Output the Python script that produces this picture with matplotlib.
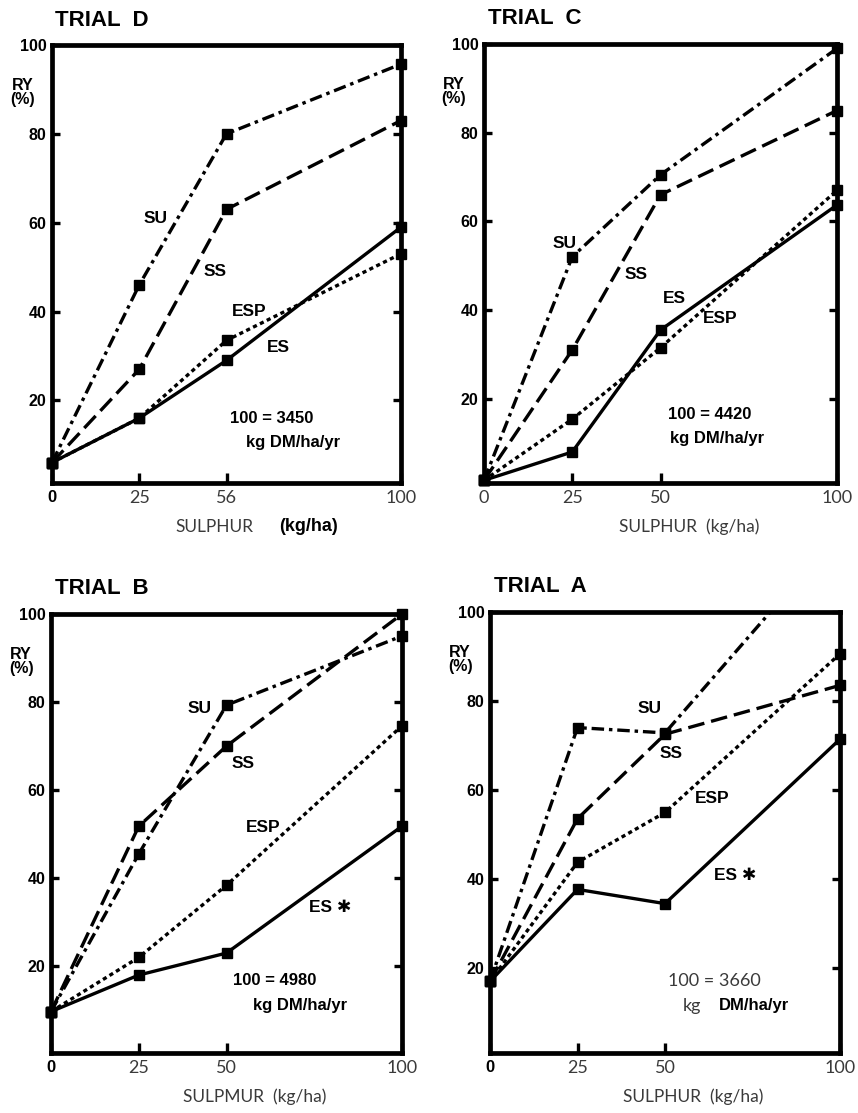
import numpy as np
import matplotlib
matplotlib.use("Agg")
from matplotlib import pyplot as plt

plt.rcParams['font.family'] = ['Liberation Sans', 'DejaVu Sans']
plt.rcParams['lines.scale_dashes'] = False

# sulphur rates (kg/ha)
x = [0, 25, 50, 100]

# relative yield (%)
d_su = [6, 46, 80, 95.7]
d_ss = [6, 27, 63, 83]
d_esp = [6, 16, 33.5, 53]
d_es = [6, 16, 29, 59]

c_su = [1.6, 52, 70.5, 99]
c_ss = [1.6, 31, 66, 85]
c_esp = [1.6, 15.4, 31.5, 67]
c_es = [1.6, 8, 35.5, 63.7]

b_su = [9.7, 45.5, 79.3, 95]
b_ss = [9.7, 51.8, 70, 100]
b_esp = [9.7, 22, 38.4, 74.6]
b_es = [9.7, 18, 23, 51.8]

a_su = [16.9, 74, 72.8, 118]
a_ss = [16.9, 53.5, 72.5, 83.5]
a_esp = [16.9, 43.7, 54.9, 90.6]
a_es = [16.9, 37.6, 34.4, 71.4]

styles = {
    'SU': (0, (9, 3.5, 2.5, 3.5)),
    'SS': (0, (12, 5)),
    'ESP': (0, (3, 2.5)),
    'ES': '-',
}

W, H = 858, 1113
LIGHT = dict(family=['Lato', 'DejaVu Sans'], color='#3a3a3a')


def box(l, t, r, b):
    return [l / W, 1 - b / H, (r - l) / W, (b - t) / H]


def panel(rect, title, series, ylo, xticklabels, zero_bold, labels, note, xlab):
    ax = fig.add_axes(box(*rect))
    for name, vals in series:
        clip = max(vals) > 100
        ax.plot(x, vals, color='black', lw=2.4, ls=styles[name],
                marker='s', ms=7, clip_on=clip, zorder=3)
    ax.set_xlim(0, 100)
    ax.set_ylim(ylo, 100)
    for s in ax.spines.values():
        s.set_linewidth(3.4)
    ax.set_yticks([20, 40, 60, 80, 100])
    ax.set_yticklabels(['20', '40', '60', '80', '100'], fontweight='bold', fontsize=11.5)
    ax.set_xticks(x)
    ax.set_xticklabels(xticklabels, fontsize=13, **LIGHT)
    if zero_bold:
        t0 = ax.get_xticklabels()[0]
        t0.set_fontweight('bold')
        t0.set_color('black')
        t0.set_family(['Liberation Sans', 'DejaVu Sans'])
        t0.set_fontsize(12)
    ax.tick_params(axis='y', direction='in', length=6, width=2.4, right=True, pad=4)
    ax.tick_params(axis='x', direction='in', length=7, width=2.4, pad=5)
    ax.text(-0.085, 0.892, 'RY\n(%)', transform=ax.transAxes, ha='center', va='center',
            fontweight='bold', fontsize=11.5, linespacing=0.9)
    ax.text(0.01, 1.057, title, transform=ax.transAxes, ha='left', va='center',
            fontweight='bold', fontsize=16)
    for txt, lx, ly in labels:
        ax.text(lx, ly, txt, ha='center', va='center', fontweight='bold', fontsize=12.5)
    for txt, lx, ly, light in note:
        if light:
            ax.text(lx, ly, txt, ha='center', va='center', fontsize=13, **LIGHT)
        else:
            ax.text(lx, ly, txt, ha='center', va='center', fontweight='bold', fontsize=12)
    for txt, lx, light in xlab:
        if light:
            ax.text(lx, -0.10, txt, transform=ax.transAxes, ha='center', va='center',
                    fontsize=12.5, **LIGHT)
        else:
            ax.text(lx, -0.10, txt, transform=ax.transAxes, ha='center', va='center',
                    fontweight='bold', fontsize=13)
    return ax


fig = plt.figure(figsize=(W / 100, H / 100), dpi=100)

panel((52, 45, 401, 483), 'TRIAL  D',
      [('SU', d_su), ('SS', d_ss), ('ESP', d_esp), ('ES', d_es)], 1.4,
      ['0', '25', '56', '100'], True,
      [('SU', 29.6, 61), ('SS', 46.8, 49), ('ESP', 56.6, 40), ('ES', 65, 32)],
      [('100 = 3450', 63, 16, False), ('kg DM/ha/yr', 69, 10.5, False)],
      [('SULPHUR', 0.465, True), ('(kg/ha)', 0.735, False)])

panel((484, 44, 837, 483), 'TRIAL  C',
      [('SU', c_su), ('SS', c_ss), ('ESP', c_esp), ('ES', c_es)], 1.0,
      ['0', '25', '50', '100'], False,
      [('SU', 22.9, 55), ('SS', 43, 48), ('ES', 54, 42.5), ('ESP', 67, 38)],
      [('100 = 4420', 64, 16.5, False), ('kg DM/ha/yr', 66, 11, False)],
      [('SULPHUR  (kg/ha)', 0.58, True)])

panel((51, 614, 402, 1053), 'TRIAL  B',
      [('SU', b_su), ('SS', b_ss), ('ESP', b_esp), ('ES', b_es)], 0.3,
      ['0', '25', '50', '100'], True,
      [('SU', 42.4, 78.5), ('SS', 54.8, 66), ('ESP', 60.5, 51.4), ('ES \u2731', 79.5, 33.3)],
      [('100 = 4980', 63.8, 16.8, False), ('kg DM/ha/yr', 71, 11, False)],
      [('SULPMUR  (kg/ha)', 0.58, True)])

panel((490, 612, 840, 1053), 'TRIAL  A',
      [('SU', a_su), ('SS', a_ss), ('ESP', a_esp), ('ES', a_es)], 0.8,
      ['0', '25', '50', '100'], True,
      [('SU', 45.5, 78.4), ('SS', 51.7, 68.2), ('ESP', 63.6, 58), ('ES \u2731', 70, 40.8)],
      [('100 = 3660', 64, 16.9, True), ('kg', 57.7, 11.4, True), ('DM/ha/yr', 75.5, 11.4, False)],
      [('SULPHUR  (kg/ha)', 0.58, True)])

fig.savefig('out.png', dpi=100)
